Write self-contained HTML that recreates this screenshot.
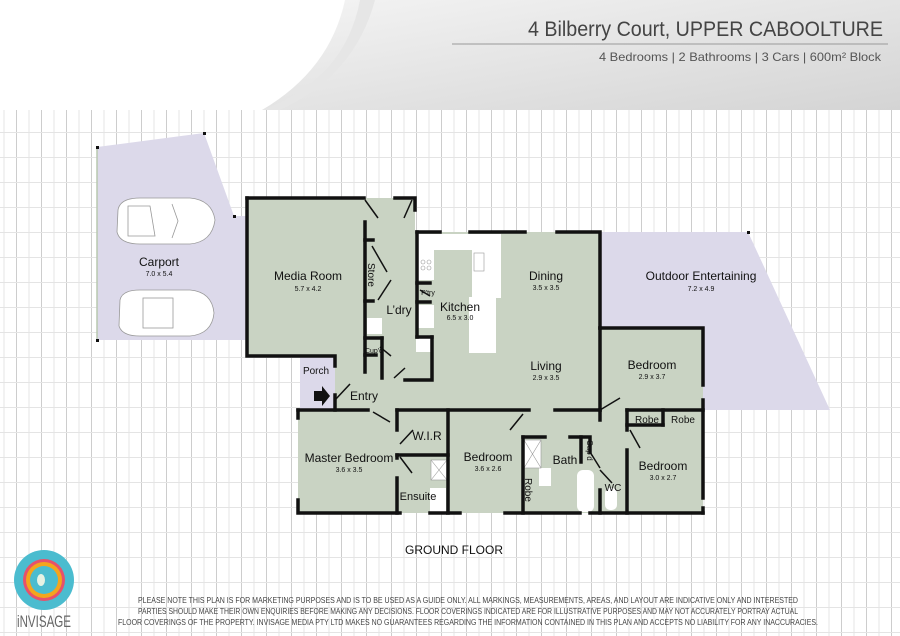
<!DOCTYPE html>
<html><head><meta charset="utf-8"><style>
html,body{margin:0;padding:0;background:#fff;}
body{width:900px;height:636px;overflow:hidden;position:relative;font-family:"Liberation Sans",sans-serif;}
svg{position:absolute;left:0;top:0;}
</style></head><body>
<svg width="900" height="636" viewBox="0 0 900 636" xmlns="http://www.w3.org/2000/svg">
<defs>
<pattern id="g" width="25" height="25" patternUnits="userSpaceOnUse" x="16" y="7">
<path d="M0.5 0V25" stroke="#cdcdcd" stroke-width="1" fill="none"/>
<path d="M13 0V25" stroke="#e6e6e6" stroke-width="1" fill="none"/>
<path d="M0 0.5H25" stroke="#e4e4e4" stroke-width="1" fill="none"/>
</pattern>
<linearGradient id="hg" x1="0" y1="0" x2="1" y2="1">
<stop offset="0" stop-color="#f4f4f4"/><stop offset="1" stop-color="#d4d4d4"/>
</linearGradient>
</defs>
<rect x="0" y="110" width="900" height="526" fill="url(#g)"/>
<!-- header -->
<path d="M345 0 H900 V110 H262 Q330 70 345 0 Z" fill="url(#hg)"/>
<path d="M360 0 Q345 80 262 110 H280 Q355 75 375 0Z" fill="#e6e6e6"/>
<text x="883" y="36" text-anchor="end" font-size="21" fill="#444" font-family="Liberation Sans Narrow, Liberation Sans, sans-serif" textLength="355" lengthAdjust="spacingAndGlyphs">4 Bilberry Court, UPPER CABOOLTURE</text>
<line x1="452" y1="44" x2="888" y2="44" stroke="#999" stroke-width="1"/>
<text x="881" y="61" text-anchor="end" font-size="12" fill="#555" textLength="282" lengthAdjust="spacingAndGlyphs">4 Bedrooms |  2 Bathrooms |  3 Cars | 600m² Block</text>

<!-- outdoor areas -->
<polygon points="97,147 204,133 234,216 247,216 247,340 97,340" fill="#dcd9ea"/>
<line x1="97" y1="147" x2="97" y2="340" stroke="#b8c8b0" stroke-width="1.5"/>
<polygon points="600,232 748,232 830,410 703,410 703,328 600,328" fill="#dcd9ea"/>
<rect x="300" y="357" width="35" height="53" fill="#dcd9ea"/>
<g fill="#111"><rect x="96" y="146" width="3" height="3"/><rect x="203" y="132" width="3" height="3"/><rect x="233" y="215" width="3" height="3"/><rect x="96" y="339" width="3" height="3"/><rect x="747" y="231" width="3" height="3"/></g>

<!-- floor -->
<g fill="#c9d3c3">
<polygon points="247,198 415,198 415,232 600,232 600,328 703,328 703,513 298,513 298,410 335,410 335,356 247,356"/>
</g>
<!-- white kitchen fixtures -->
<g fill="#fff">
<rect x="418" y="234" width="82" height="16"/>
<rect x="472" y="234" width="29" height="64"/>
<rect x="469" y="297" width="27" height="56"/>
<rect x="418" y="250" width="16" height="30"/>
<rect x="418" y="305" width="16" height="23"/>
<rect x="416" y="336" width="15" height="16"/>
<rect x="367" y="318" width="15" height="16"/>
<rect x="524" y="440" width="17" height="28"/>
<rect x="539" y="468" width="12" height="18"/>
<rect x="577" y="470" width="17" height="42" rx="6"/>
<rect x="430" y="488" width="16" height="24"/>
<rect x="431" y="460" width="16" height="20"/>
<rect x="605" y="488" width="12" height="22" rx="5"/>
</g>
<g fill="none" stroke="#999" stroke-width="0.6">
<rect x="524" y="440" width="17" height="28"/><line x1="524" y1="440" x2="541" y2="468"/><line x1="541" y1="440" x2="524" y2="468"/>
<rect x="431" y="460" width="16" height="20"/><line x1="431" y1="460" x2="447" y2="480"/><line x1="447" y1="460" x2="431" y2="480"/>
<circle cx="423" cy="262" r="2"/><circle cx="429" cy="262" r="2"/><circle cx="423" cy="268" r="2"/><circle cx="429" cy="268" r="2"/>
<rect x="474" y="253" width="10" height="18"/>
</g>

<!-- walls -->
<g stroke="#111" stroke-width="3.5" fill="none" stroke-linecap="square">
<path d="M247 198 H364"/><path d="M395 198 H415 V210"/>
<path d="M247 198 V356 H335 V366"/><path d="M335 395 V410"/>
<path d="M417 232 H440"/><path d="M470 232 H525"/><path d="M557 232 H600 V328"/>
<path d="M600 328 H703 V385"/><path d="M703 400 V498"/><path d="M703 508 V513"/>
<path d="M600 328 V410"/>
<path d="M298 410 H368"/><path d="M397 410 H529"/><path d="M555 410 H600"/>
<path d="M298 410 V418"/><path d="M298 500 V513 H400"/><path d="M430 513 H445"/><path d="M448 513 H460"/><path d="M505 513 H580"/><path d="M590 513 H703"/>
<path d="M397 410 V430"/><path d="M397 455 H448"/><path d="M397 455 V458"/><path d="M397 478 V513"/>
<path d="M448 410 V513"/>
<path d="M523 437 V513"/><path d="M523 437 H545"/><path d="M570 437 H590 V452"/><path d="M581 437 V462"/>
<path d="M600 410 V420"/>
<path d="M600 490 V513"/>
<path d="M627 410 V430"/><path d="M627 450 V513"/>
<path d="M627 410 H703"/><path d="M663 410 V425"/><path d="M627 425 H663"/>
<path d="M365 222 V372"/><path d="M365 240 H373"/><path d="M365 301 H373"/><path d="M365 355 H376"/>
<path d="M382 338 V378"/><path d="M365 338 H382"/>
<path d="M417 232 V337"/><path d="M417 283 H430"/><path d="M417 302 H430"/>
<path d="M432 337 V380 H405"/>
<path d="M417 337 H432"/>
</g>
<!-- door leaves -->
<g stroke="#111" stroke-width="1.5" fill="none">
<line x1="365" y1="200" x2="378" y2="218"/><line x1="412" y1="200" x2="404" y2="218"/>
<line x1="372" y1="246" x2="387" y2="272"/><line x1="378" y1="300" x2="391" y2="280"/>
<line x1="380" y1="347" x2="391" y2="356"/><line x1="394" y1="378" x2="405" y2="368"/>
<line x1="335" y1="400" x2="350" y2="384"/>
<line x1="373" y1="412" x2="390" y2="422"/>
<line x1="400" y1="444" x2="413" y2="430"/><line x1="400" y1="457" x2="412" y2="473"/>
<line x1="510" y1="430" x2="523" y2="414"/>
<line x1="600" y1="410" x2="620" y2="398"/>
<line x1="630" y1="430" x2="640" y2="448"/>
<line x1="590" y1="452" x2="600" y2="468"/>
<line x1="600" y1="470" x2="612" y2="483"/>
<line x1="420" y1="290" x2="430" y2="296"/>
</g>
<!-- arrow -->
<polygon points="314,391 322,391 322,386 330,396 322,406 322,401 314,401" fill="#111"/>

<!-- cars -->
<g fill="#fff" stroke="#999" stroke-width="0.8">
<path d="M118 210 Q120 198 140 198 H190 Q212 200 215 220 Q212 242 190 244 H140 Q120 244 117 232 Z"/>
<path d="M120 300 Q122 290 140 290 H190 Q212 292 214 313 Q212 334 190 336 H140 Q122 336 119 326 Z"/>
<path d="M128 206 H150 L155 236 H128 Z" fill="none"/>
<path d="M172 204 L178 221 L172 238" fill="none"/>
<rect x="143" y="298" width="30" height="30" fill="none"/>
</g>

<!-- labels -->
<g font-size="12" fill="#111" text-anchor="middle">
<text x="159" y="266">Carport</text>
<text x="308" y="280">Media Room</text>
<text x="399" y="314">L’dry</text>
<text x="460" y="311">Kitchen</text>
<text x="546" y="280">Dining</text>
<text x="546" y="370">Living</text>
<text x="701" y="280">Outdoor Entertaining</text>
<text x="652" y="369">Bedroom</text>
<text x="663" y="470">Bedroom</text>
<text x="488" y="461">Bedroom</text>
<text x="349" y="462">Master Bedroom</text>
<text x="364" y="400">Entry</text>
<text x="316" y="374" font-size="10">Porch</text>
<text x="427" y="440">W.I.R</text>
<text x="418" y="500" font-size="11">Ensuite</text>
<text x="565" y="464">Bath</text>
<text x="647" y="423" font-size="10">Robe</text>
<text x="683" y="423" font-size="10">Robe</text>
<text x="613" y="491" font-size="10">WC</text>
</g>
<g font-size="7" fill="#111" text-anchor="middle">
<text x="159" y="276">7.0 x 5.4</text>
<text x="308" y="291">5.7 x 4.2</text>
<text x="460" y="320">6.5 x 3.0</text>
<text x="546" y="290">3.5 x 3.5</text>
<text x="546" y="380">2.9 x 3.5</text>
<text x="701" y="291">7.2 x 4.9</text>
<text x="652" y="379">2.9 x 3.7</text>
<text x="663" y="480">3.0 x 2.7</text>
<text x="488" y="471">3.6 x 2.6</text>
<text x="349" y="472">3.6 x 3.5</text>
<text x="428" y="295" font-size="7">P'try</text>
<text x="374" y="353" font-size="7">Cup'd</text>
</g>
<text x="0" y="0" font-size="10" transform="translate(368,263) rotate(90)" fill="#111">Store</text>
<text x="0" y="0" font-size="10" transform="translate(525,478) rotate(90)" fill="#111">Robe</text>
<text x="0" y="0" font-size="8" transform="translate(587,440) rotate(90)" fill="#111">Cup'd</text>

<!-- footer -->
<text x="454" y="554" text-anchor="middle" font-size="12" fill="#111" textLength="98" lengthAdjust="spacingAndGlyphs">GROUND FLOOR</text>
<g font-size="8" fill="#444" text-anchor="middle">
<text x="468" y="603" textLength="660" lengthAdjust="spacingAndGlyphs">PLEASE NOTE THIS PLAN IS FOR MARKETING PURPOSES AND IS TO BE USED AS A GUIDE ONLY.  ALL MARKINGS, MEASUREMENTS, AREAS, AND LAYOUT ARE INDICATIVE ONLY AND INTERESTED</text>
<text x="468" y="614" textLength="660" lengthAdjust="spacingAndGlyphs">PARTIES SHOULD MAKE THEIR OWN ENQUIRIES BEFORE MAKING ANY DECISIONS.  FLOOR COVERINGS INDICATED ARE FOR ILLUSTRATIVE PURPOSES AND MAY NOT ACCURATELY PORTRAY ACTUAL</text>
<text x="468" y="625" textLength="700" lengthAdjust="spacingAndGlyphs">FLOOR COVERINGS OF THE PROPERTY.  INVISAGE MEDIA PTY LTD MAKES NO GUARANTEES REGARDING THE INFORMATION CONTAINED IN THIS PLAN AND ACCEPTS NO LIABILITY FOR  ANY INACCURACIES.</text>
</g>
<!-- logo -->
<circle cx="44" cy="580" r="30" fill="#4bbccf"/>
<circle cx="44" cy="580" r="21" fill="#e8516a"/>
<circle cx="44" cy="580" r="18" fill="#f4a51d"/>
<circle cx="44" cy="580" r="14" fill="#4bbccf"/>
<ellipse cx="41" cy="580" rx="4" ry="6" fill="#e6f2e4"/>
<text x="44" y="627" text-anchor="middle" font-size="17" fill="#666" textLength="54" lengthAdjust="spacingAndGlyphs">iNVISAGE</text>
</svg>
</body></html>
